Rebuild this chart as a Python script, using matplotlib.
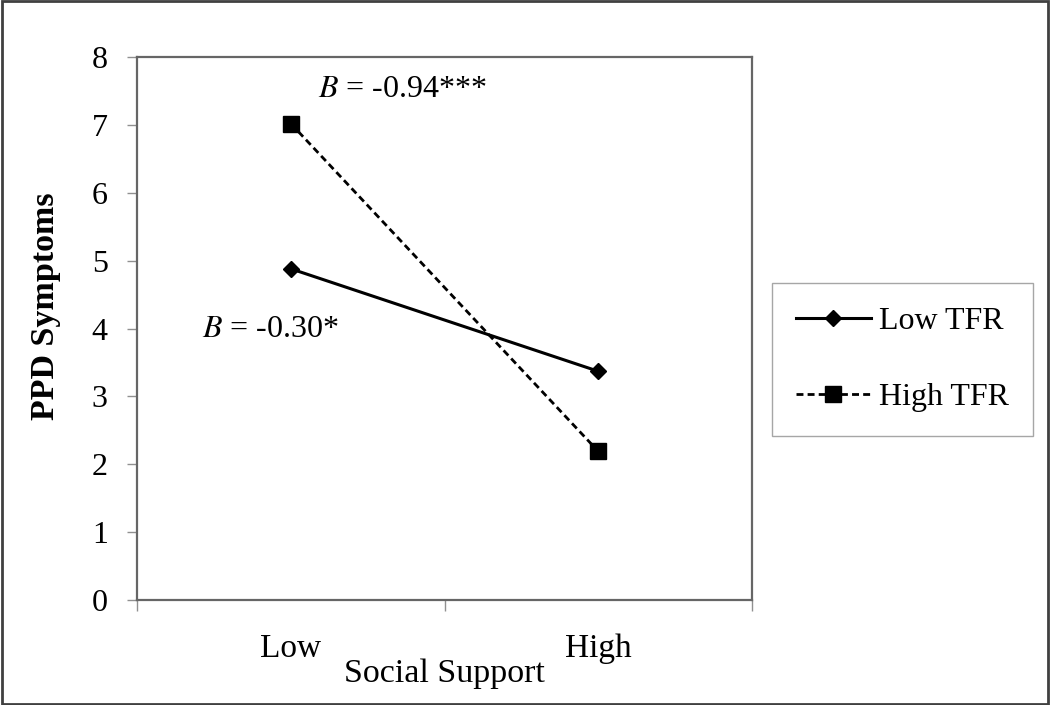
import matplotlib.pyplot as plt
from matplotlib.patches import Rectangle
from matplotlib.lines import Line2D

# Dane
categories = ["Low", "High"]
low_tfr = [4.88, 3.37]
high_tfr = [7.02, 2.19]
series_labels = ["Low TFR", "High TFR"]
yticks = [0, 1, 2, 3, 4, 5, 6, 7, 8]

plt.rcParams['font.family'] = ['Liberation Serif', 'DejaVu Serif']

fig = plt.figure(figsize=(10.5, 7.05), dpi=100)
ax = fig.add_axes([137 / 1050, 105 / 705, 615 / 1050, 543 / 705])

solid = dict(color='black', linewidth=2.2, marker='D', markersize=8)
dashed = dict(color='black', linewidth=2.0, linestyle=(0, (2.5, 1.5)),
              marker='s', markersize=11)

x = list(range(len(categories)))
ax.plot(x, low_tfr, label=series_labels[0], **solid)
ax.plot(x, high_tfr, label=series_labels[1], **dashed)

ax.set_xlim(-0.5, 1.5)
ax.set_ylim(0, 8)
ax.set_yticks(yticks)
ax.set_yticklabels([str(v) for v in yticks], fontsize=23)
ax.set_xticks([-0.5, 0.5, 1.5])
ax.set_xticklabels([])
ax.set_xticks(x, minor=True)
ax.set_xticklabels(categories, minor=True, fontsize=24)
ax.tick_params(axis='x', which='minor', length=0, pad=24)
ax.tick_params(axis='x', which='major', length=8, width=1, color='#909090')
ax.tick_params(axis='y', length=7, width=1, color='#909090', pad=14)

for s in ax.spines.values():
    s.set_color('#666666')
    s.set_linewidth(1.6)

ax.set_ylabel('PPD Symptoms', fontsize=24.5, fontweight='bold')
ax.yaxis.set_label_coords(-0.123, 0.541)
ax.set_xlabel('Social Support', fontsize=24.5, labelpad=-4)

# Opisy nachyleń
ax.text(0.09, 7.41, r'$B$ = -0.94***', fontsize=23, ha='left', va='baseline',
        math_fontfamily='stix')
ax.text(-0.29, 3.87, r'$B$ = -0.30*', fontsize=23, ha='left', va='baseline',
        math_fontfamily='stix')

# Legenda
handles = [Line2D([], [], **solid), Line2D([], [], **dashed)]
leg = fig.legend(handles, series_labels, loc='upper left',
                 bbox_to_anchor=(772 / 1050, 1 - 283 / 705),
                 bbox_transform=fig.transFigure,
                 fontsize=23, frameon=True, fancybox=False,
                 handlelength=2.35, handletextpad=0.25, labelspacing=1.45,
                 borderpad=0.75, borderaxespad=0)
leg.get_frame().set_edgecolor('#909090')
leg.get_frame().set_linewidth(1.0)

# Ramka wokół całego rysunku
fig.patches.append(Rectangle((0.002, 0.002), 0.996, 0.996, transform=fig.transFigure,
                             fill=False, edgecolor='#404040', linewidth=2))

fig.savefig('out.png', dpi=100)
